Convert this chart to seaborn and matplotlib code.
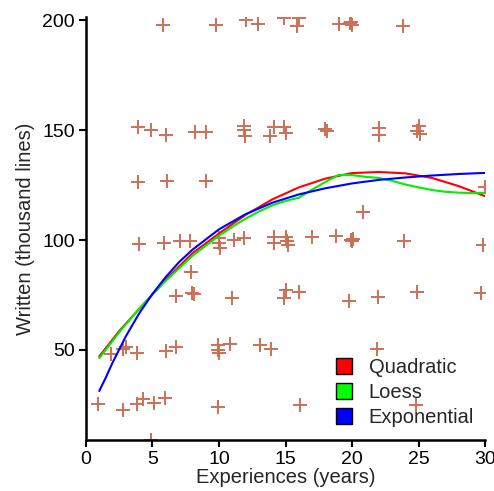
import matplotlib
matplotlib.use("Agg")
import matplotlib.pyplot as plt
from matplotlib.patches import Patch
import seaborn as sns
import pandas as pd

# pontos
experiencia = [
    5.8, 9.8, 12.0, 12.9, 14.85, 16.0, 15.85, 19.0, 19.85, 20.0, 19.9, 23.8,
    3.9, 4.9, 6.0, 8.2, 9.05, 11.85, 11.9, 11.95, 14.1, 13.85, 14.9, 15.0,
    18.0, 18.1, 22.05, 22.05, 25.0, 24.9, 25.1,
    3.9, 6.1, 9.0, 30.0, 20.85,
    4.0, 5.9, 7.05, 7.85, 10.0, 10.0, 10.05, 11.15, 11.9, 14.1, 14.1, 15.0,
    15.1, 15.2, 17.0, 18.8, 19.9, 20.05, 20.0, 23.9, 29.85,
    7.9,
    6.8, 7.95, 8.1, 11.0, 15.0, 14.85, 16.0, 19.8, 21.95, 24.9, 29.7,
    3.0, 2.75, 1.85, 3.85, 6.05, 6.8, 9.9, 9.95, 10.0, 10.85, 13.1, 13.9, 21.9,
    0.9, 2.8, 3.85, 4.25, 5.1, 5.95, 9.9, 16.05, 24.8,
    4.9,
]
escrito = [
    198, 198, 200, 198.2, 201, 201, 197.4, 198.6, 199, 198, 199.5, 197.4,
    151.3, 150.3, 147.7, 149.4, 149.2, 152.1, 150, 147.6, 151.5, 147.3, 151.5, 148.8,
    150.6, 149.8, 151.1, 148, 151.8, 149.5, 148.3,
    126.4, 127, 127, 124.4, 113,
    98.3, 98.8, 99.7, 99.7, 100.9, 98.6, 96.4, 100.1, 100.9, 101.6, 98.6, 101.6,
    99.4, 97.9, 101.4, 102, 100.1, 100.6, 99.5, 99.7, 97.9,
    85.4,
    74.6, 76.1, 75.5, 73.6, 77.3, 73.8, 76.2, 72.4, 74.2, 76.3, 75.8,
    51.5, 50.4, 48.3, 48.5, 49.7, 51.5, 52.2, 50, 48.6, 52.5, 52.3, 50.3, 50.3,
    25.4, 22.6, 25.4, 27.5, 25.7, 27.9, 24.1, 24.9, 24.9,
    9.0,
]

# curvas
x_quad = [1, 2.5, 4, 6, 8, 10, 12, 14, 16, 18, 20, 22, 24, 26, 28, 30]
y_quad = [47, 58.6, 68.6, 82, 94, 103, 111.5, 118.5, 124, 128, 130.5, 131,
          130.4, 128.3, 124.6, 120]

x_loess = [1, 2.5, 4, 6, 8, 10, 11, 12, 13, 14, 15, 16, 17, 18, 19, 20, 21,
           22, 23, 24, 25, 26, 27, 28, 29, 30]
y_loess = [46.2, 58, 68.8, 81.5, 92.8, 102, 106, 109.8, 113, 115.8, 117.8, 119.3,
           123, 126.5, 129.7, 129.6, 128.8, 128.3, 127, 125.3, 124, 122.8, 122,
           121.6, 121.4, 121.5]

x_exp = [1, 1.5, 2, 3, 4, 5, 6, 7, 8, 10, 12, 14, 16, 18, 20, 22, 24, 26, 28, 30]
y_exp = [31.3, 37.5, 44.2, 56.2, 66.6, 75.5, 83.2, 90, 95.6, 104.9, 111.8, 117,
         120.8, 123.6, 125.8, 127.4, 128.5, 129.4, 130.1, 130.6]

df = pd.DataFrame({"x": experiencia, "y": escrito})

sns.set_style("ticks")
plt.rcParams["font.family"] = ["Liberation Sans", "DejaVu Sans"]

fig, ax = plt.subplots(figsize=(4.94, 4.91), dpi=100)
fig.subplots_adjust(left=0.174, right=0.982, bottom=0.104, top=0.965)

sns.scatterplot(data=df, x="x", y="y", marker="+", s=110, color="#CD6F55",
                linewidth=1.4, ax=ax, zorder=2)

sns.lineplot(x=x_quad, y=y_quad, color="#FF0000", lw=1.5, ax=ax,
             estimator=None, sort=False, zorder=3)
sns.lineplot(x=x_loess, y=y_loess, color="#00EE00", lw=1.5, ax=ax,
             estimator=None, sort=False, zorder=3)
sns.lineplot(x=x_exp, y=y_exp, color="#0000FF", lw=1.5, ax=ax,
             estimator=None, sort=False, zorder=3)

ax.set_xlim(0, 30)
ax.set_ylim(9, 201.5)
ax.set_xticks([0, 5, 10, 15, 20, 25, 30])
ax.set_yticks([50, 100, 150, 200])
ax.tick_params(labelsize=14, length=5, width=1.5, color="black",
               labelcolor="black", pad=3)
for lado in ["top", "right"]:
    ax.spines[lado].set_visible(False)
for lado in ["left", "bottom"]:
    ax.spines[lado].set_linewidth(1.8)
    ax.spines[lado].set_color("black")

ax.set_xlabel("Experiences (years)", fontsize=14.5, labelpad=0)
ax.set_ylabel("Written (thousand lines)", fontsize=14.5, labelpad=5)

handles = [
    Patch(facecolor="#FF0000", edgecolor="black", label="Quadratic"),
    Patch(facecolor="#00FF00", edgecolor="black", label="Loess"),
    Patch(facecolor="#0000FF", edgecolor="black", label="Exponential"),
]
ax.legend(handles=handles, loc="lower left", bbox_to_anchor=(0.58, -0.012),
          frameon=False, fontsize=14.5, handlelength=0.8, handleheight=0.8,
          handletextpad=0.85, labelspacing=0.3)

plt.savefig("out.png", dpi=100)
plt.close()
